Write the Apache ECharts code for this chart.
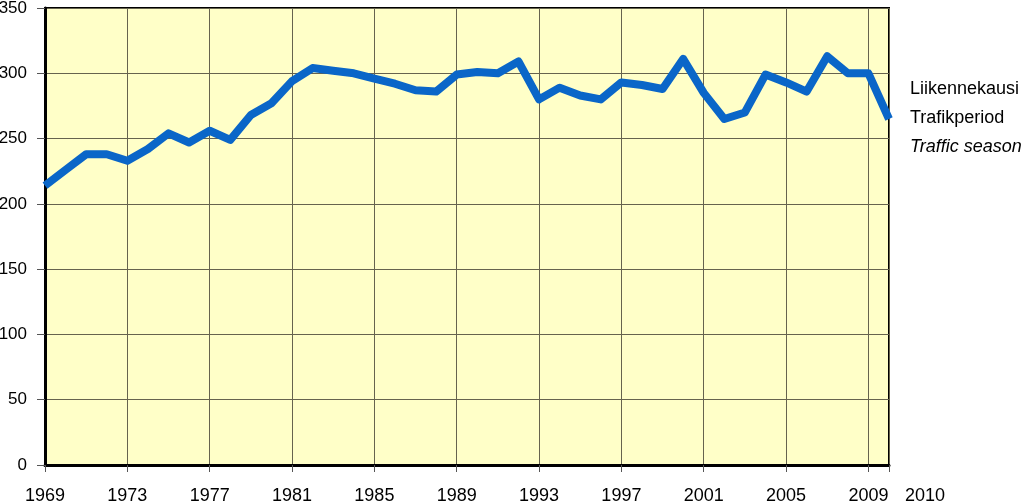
<!DOCTYPE html>
<html><head><meta charset="utf-8">
<script src="https://cdn.jsdelivr.net/npm/echarts@6/dist/echarts.min.js"></script>
<style>html,body{margin:0;padding:0;background:#fff}#c{width:1023px;height:504px}</style>
</head><body><div id="c"></div>
<script>
const years = [1969,1970,1971,1972,1973,1974,1975,1976,1977,1978,1979,1980,1981,1982,1983,1984,1985,1986,1987,1988,1989,1990,1991,1992,1993,1994,1995,1996,1997,1998,1999,2000,2001,2002,2003,2004,2005,2006,2007,2008,2009,2010];
const values = [214,226,238,238,233,242,254,247,256,249,268,277,294,304,302,300,296,292,287,286,299,301,300,309,280,289,283,280,293,291,288,311,285,265,270,299,293,286,313,300,300,265];
const yTicks = [0,50,100,150,200,250,300,350];
const legendLines = ['Liikennekausi','Trafikperiod','Traffic season'];

const font = '"Liberation Sans", Arial, sans-serif';
const chart = echarts.init(document.getElementById('c'));
chart.setOption({
  animation:false,
  backgroundColor:'#fff',
  grid:{left:45,right:134,top:8,bottom:39,show:true,outerBoundsMode:'none',containLabel:false,
    backgroundColor:'#FFFFC8',borderColor:'#000',borderWidth:2},
  xAxis:{type:'value',min:years[0],max:years[years.length-1],interval:4,
    axisLine:{lineStyle:{color:'#000',width:3}},
    axisTick:{show:true,length:7,lineStyle:{color:'#555'}},
    splitLine:{show:true,lineStyle:{color:'#66634e',width:1}},
    axisLabel:{color:'#000',fontSize:18,fontFamily:font,margin:22,showMaxLabel:true,
      formatter:v=> v===years[years.length-1] ? '{s|'+v+'}' : String(v),
      rich:{s:{fontSize:18,fontFamily:font,color:'#000',padding:[0,0,0,72]}}}},
  yAxis:{type:'value',min:yTicks[0],max:yTicks[yTicks.length-1],interval:50,
    axisLine:{show:true,lineStyle:{color:'#000',width:3}},
    axisTick:{show:true,length:8,lineStyle:{color:'#555'}},
    splitLine:{show:true,lineStyle:{color:'#66634e',width:1}},
    axisLabel:{color:'#000',fontSize:17,fontFamily:font,margin:18}},
  graphic: legendLines.map((t,i)=>({type:'text',left:910,top:80+i*29,
    style:{text:t,fill:'#000',font:(i===2?'italic ':'')+'18px '+font}})),
  series:[{type:'line',data:years.map((y,i)=>[y,values[i]]),symbol:'none',
    lineStyle:{color:'#0a66c8',width:8,join:'round'},z:5}]
});
</script></body></html>
